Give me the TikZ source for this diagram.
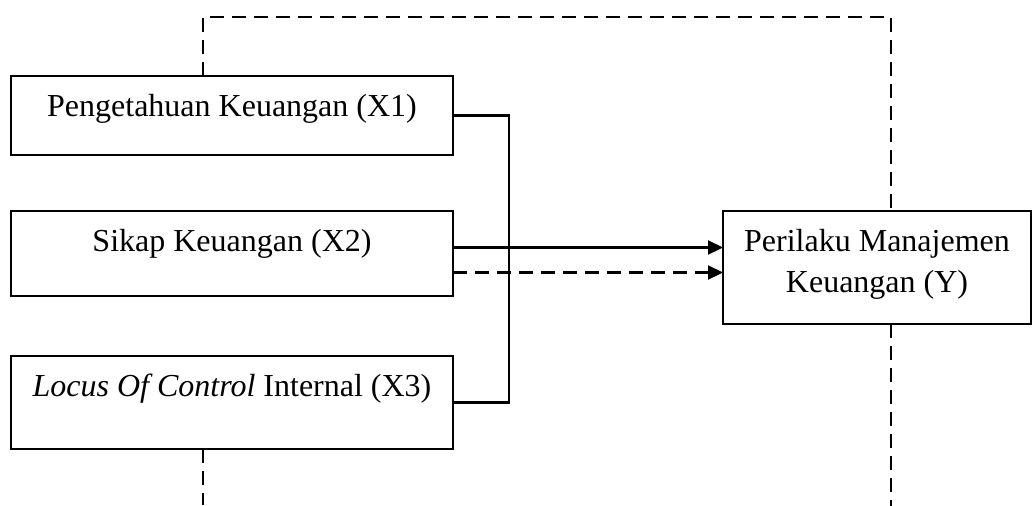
\documentclass[tikz,border=0pt]{standalone}
\usepackage{fontspec}
\setmainfont{Liberation Serif}
\usetikzlibrary{arrows.meta,positioning}

\begin{document}
\begin{tikzpicture}[x=0.5pt,y=-0.5pt,line width=1.1pt,
  box/.style={draw,align=center,outer sep=0pt,inner xsep=4pt,inner ysep=9pt,text height=11pt,font=\fontsize{16}{20.5}\selectfont},
  xbox/.style={box,minimum width=221pt},
  arr/.style={-{Triangle[length=7.5pt,width=7pt]}},
  dashline/.style={dash pattern=on 7pt off 4pt}]
\useasboundingbox (0,0) rectangle (1033,505);
\node[xbox,anchor=north west,text depth=10.5pt] (x1) at (11,76) {Pengetahuan Keuangan (X1)};
\node[xbox,below=28pt of x1,text depth=13.5pt] (x2) {Sikap Keuangan (X2)};
\node[xbox,below=30pt of x2,text depth=17.5pt] (x3) {\textit{Locus Of Control} Internal (X3)};
\node[box,right=135pt of x2.north east,anchor=north west,minimum width=154pt,text height=31.5pt,text depth=7pt] (y) {Perilaku Manajemen\\Keuangan (Y)};
% hubungan parsial
\draw (x1.east) -- ++(28pt,0) |- (x3.east);
\draw[arr] ([yshift=3pt]x2.east) -- ([yshift=3pt]x2.east -| y.west);
\draw[arr,dashline] ([yshift=-9.5pt]x2.east) -- ([yshift=-9.5pt]x2.east -| y.west);
% hubungan simultan
\coordinate (top) at (203,17);
\draw[dashline] ([xshift=-14.5pt]x1.north) |- (top) -| ([xshift=7pt]y.north);
\draw[dashline] ([xshift=7pt]y.south) -- ++(0,-91pt);
\draw[dashline] ([xshift=-14.5pt]x3.south) -- ++(0,-28pt);
\end{tikzpicture}
\end{document}
